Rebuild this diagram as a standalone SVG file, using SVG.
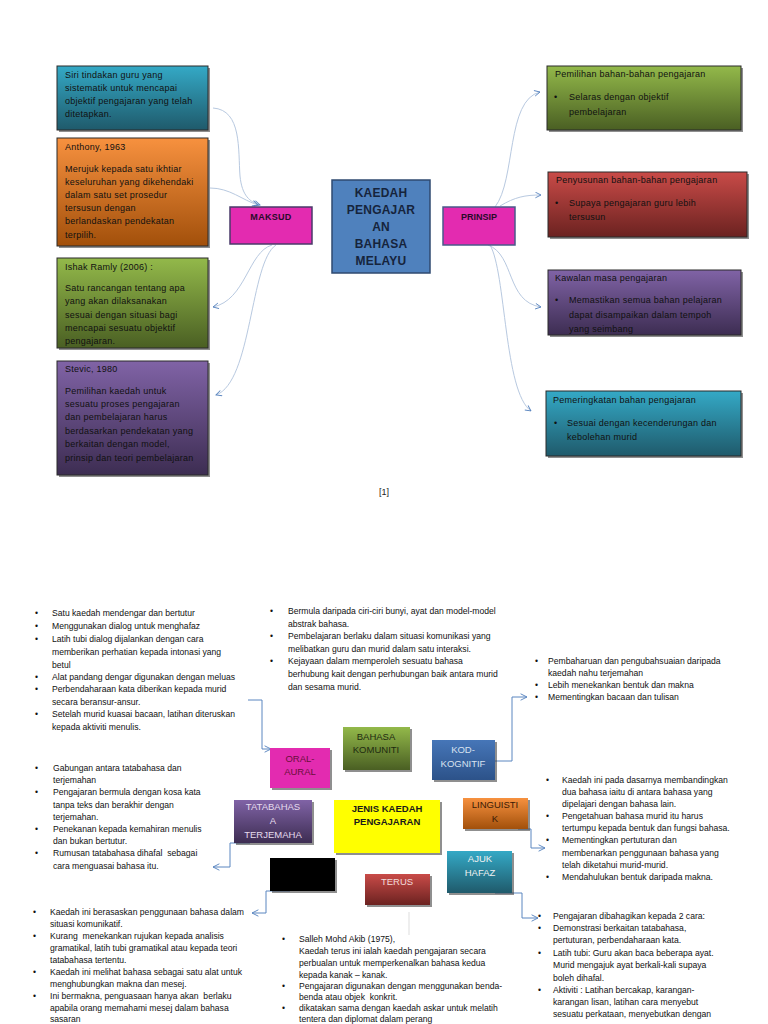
<svg xmlns="http://www.w3.org/2000/svg" width="768" height="1024" viewBox="0 0 768 1024">
<defs>
<linearGradient id="gTeal" x1="0" y1="0" x2="0" y2="1"><stop offset="0" stop-color="#34A9C6"/><stop offset="1" stop-color="#1F5A6B"/></linearGradient>
<linearGradient id="gOrange" x1="0" y1="0" x2="0" y2="1"><stop offset="0" stop-color="#F7913F"/><stop offset="1" stop-color="#A2500B"/></linearGradient>
<linearGradient id="gGreen" x1="0" y1="0" x2="0" y2="1"><stop offset="0" stop-color="#93B94A"/><stop offset="1" stop-color="#4A5F23"/></linearGradient>
<linearGradient id="gPurple" x1="0" y1="0" x2="0" y2="1"><stop offset="0" stop-color="#8063A6"/><stop offset="1" stop-color="#3D2D52"/></linearGradient>
<linearGradient id="gRed" x1="0" y1="0" x2="0" y2="1"><stop offset="0" stop-color="#C94B48"/><stop offset="1" stop-color="#6B2220"/></linearGradient>
<linearGradient id="gBlue" x1="0" y1="0" x2="0" y2="1"><stop offset="0" stop-color="#4676B8"/><stop offset="1" stop-color="#2C5289"/></linearGradient>
<marker id="aT" viewBox="0 0 10 10" refX="9" refY="5" markerWidth="7" markerHeight="7" orient="auto" markerUnits="userSpaceOnUse"><path d="M1,1 L9,5 L1,9" fill="none" stroke="#5B86C0" stroke-width="1.3"/></marker>
<marker id="aB" viewBox="0 0 10 10" refX="9" refY="5" markerWidth="8" markerHeight="8" orient="auto" markerUnits="userSpaceOnUse"><path d="M1,1 L9,5 L1,9" fill="none" stroke="#5B86C0" stroke-width="1.2"/></marker>
</defs>
<style>
text{font-family:"Liberation Sans",Arial,sans-serif;}
.t{font-size:9px;fill:#111;letter-spacing:0.25px}
.b{font-size:8.6px;fill:#111}
.box{stroke:#2a2a2a;stroke-width:1}
.sh{fill:#333;opacity:0.55}
.cT{fill:none;stroke:#B8C9E0;stroke-width:1}
.cB{fill:none;stroke:#5B86C0;stroke-width:1}
.n{font-size:9.5px;text-anchor:middle}
</style>
<rect width="768" height="1024" fill="#fff"/>

<g id="connectors">
<path class="cT" d="M213,108 C242,110 238,150 240,176 C242,196 250,202 260,205" marker-end="url(#aT)"/>
<path class="cT" d="M210,188 C230,188 242,200 258,205" marker-end="url(#aT)"/>
<path class="cT" d="M272,245 C248,252 246,300 213,307" marker-end="url(#aT)"/>
<path class="cT" d="M276,245 C250,262 252,382 216,395" marker-end="url(#aT)"/>
<path class="cT" d="M495,207 C516,180 506,100 540,92" marker-end="url(#aT)"/>
<path class="cT" d="M500,206 C515,197 525,195 541,195" marker-end="url(#aT)"/>
<path class="cT" d="M488,245 C515,255 506,302 541,307" marker-end="url(#aT)"/>
<path class="cT" d="M490,245 C506,272 504,392 531,411" marker-end="url(#aT)"/>

<path class="cB" d="M248,700 H262 V749 H271" marker-end="url(#aB)"/>
<path class="cB" d="M495,761 H512 V697 H527" marker-end="url(#aB)"/>
<path class="cB" d="M250,843 H230 V867 H213" marker-end="url(#aB)"/>
<path class="cB" d="M290,891 H266 V913 H252" marker-end="url(#aB)"/>
<path class="cB" d="M518,829 H531 V848 H545" marker-end="url(#aB)"/>
<path class="cB" d="M495,893 H522 V918 H538" marker-end="url(#aB)"/>
<path d="M409,912 V935" fill="none" stroke="#DDDDDD" stroke-width="1"/>
</g>

<g id="siri">
<rect x="59" y="68" width="151" height="64" class="sh"/>
<rect x="57" y="66" width="151" height="64" fill="url(#gTeal)" class="box"/>
<text class="t"><tspan x="65" y="78">Siri tindakan guru yang</tspan><tspan x="65" y="91">sistematik untuk mencapai</tspan><tspan x="65" y="104">objektif pengajaran yang telah</tspan><tspan x="65" y="117">ditetapkan.</tspan></text>
</g>
<g id="anthony">
<rect x="59" y="140" width="151" height="108" class="sh"/>
<rect x="57" y="138" width="151" height="108" fill="url(#gOrange)" class="box"/>
<text class="t"><tspan x="65" y="150">Anthony, 1963</tspan><tspan x="65" y="172">Merujuk kepada satu ikhtiar</tspan><tspan x="65" y="185">keseluruhan yang dikehendaki</tspan><tspan x="65" y="198">dalam satu set prosedur</tspan><tspan x="65" y="211">tersusun dengan</tspan><tspan x="65" y="224">berlandaskan pendekatan</tspan><tspan x="65" y="238">terpilih.</tspan></text>
</g>
<g id="ishak">
<rect x="59" y="260" width="151" height="90" class="sh"/>
<rect x="57" y="258" width="151" height="90" fill="url(#gGreen)" class="box"/>
<text class="t"><tspan x="65" y="270">Ishak Ramly (2006) :</tspan><tspan x="65" y="291">Satu rancangan tentang apa</tspan><tspan x="65" y="304">yang akan dilaksanakan</tspan><tspan x="65" y="318">sesuai dengan situasi bagi</tspan><tspan x="65" y="331">mencapai sesuatu objektif</tspan><tspan x="65" y="344">pengajaran.</tspan></text>
</g>
<g id="stevic">
<rect x="59" y="363" width="151" height="114" class="sh"/>
<rect x="57" y="361" width="151" height="114" fill="url(#gPurple)" class="box"/>
<text class="t"><tspan x="65" y="372">Stevic, 1980</tspan><tspan x="65" y="394">Pemilihan kaedah untuk</tspan><tspan x="65" y="407">sesuatu proses pengajaran</tspan><tspan x="65" y="420">dan pembelajaran harus</tspan><tspan x="65" y="434">berdasarkan pendekatan yang</tspan><tspan x="65" y="447">berkaitan dengan model,</tspan><tspan x="65" y="461">prinsip dan teori pembelajaran</tspan></text>
</g>

<g id="maksud">
<rect x="230" y="207" width="82" height="37" fill="#E32BB0" stroke="#4A3A6A" stroke-width="1.5"/>
<text x="271" y="220" font-size="9px" font-weight="bold" fill="#2a0a2a" text-anchor="middle" letter-spacing="0.3">MAKSUD</text>
</g>
<g id="kaedah">
<rect x="332" y="180" width="98" height="93" fill="#4F81BD" stroke="#2F4A70" stroke-width="1.5"/>
<text font-size="12px" font-weight="bold" fill="#16243C" text-anchor="middle" letter-spacing="0.2"><tspan x="381" y="197">KAEDAH</tspan><tspan x="381" y="214">PENGAJAR</tspan><tspan x="381" y="231">AN</tspan><tspan x="381" y="248">BAHASA</tspan><tspan x="381" y="265">MELAYU</tspan></text>
</g>
<g id="prinsip">
<rect x="443" y="207" width="72" height="38" fill="#E32BB0" stroke="#4A5A8A" stroke-width="1.5"/>
<text x="479" y="220" font-size="9px" font-weight="bold" fill="#2a0a2a" text-anchor="middle">PRINSIP</text>
</g>

<g id="pemilihan">
<rect x="549" y="68" width="194" height="64" class="sh"/>
<rect x="547" y="66" width="194" height="64" fill="url(#gGreen)" class="box"/>
<text class="t"><tspan x="555" y="77">Pemilihan bahan-bahan pengajaran</tspan><tspan x="554" y="100">•</tspan><tspan x="569" y="100">Selaras dengan objektif</tspan><tspan x="569" y="115">pembelajaran</tspan></text>
</g>
<g id="penyusunan">
<rect x="550" y="174" width="199" height="65" class="sh"/>
<rect x="548" y="172" width="199" height="65" fill="url(#gRed)" class="box"/>
<text class="t"><tspan x="556" y="183">Penyusunan bahan-bahan pengajaran</tspan><tspan x="555" y="206">•</tspan><tspan x="569" y="206">Supaya pengajaran guru lebih</tspan><tspan x="569" y="220">tersusun</tspan></text>
</g>
<g id="kawalan">
<rect x="550" y="272" width="193" height="65" class="sh"/>
<rect x="548" y="270" width="193" height="65" fill="url(#gPurple)" class="box"/>
<text class="t"><tspan x="555" y="281">Kawalan masa pengajaran</tspan><tspan x="555" y="303">•</tspan><tspan x="569" y="303">Memastikan semua bahan pelajaran</tspan><tspan x="569" y="318">dapat disampaikan dalam tempoh</tspan><tspan x="569" y="332">yang seimbang</tspan></text>
</g>
<g id="pemeringkatan">
<rect x="548" y="393" width="195" height="65" class="sh"/>
<rect x="546" y="391" width="195" height="65" fill="url(#gTeal)" class="box"/>
<text class="t"><tspan x="553" y="403">Pemeringkatan bahan pengajaran</tspan><tspan x="554" y="426">•</tspan><tspan x="567" y="426">Sesuai dengan kecenderungan dan</tspan><tspan x="567" y="440">kebolehan murid</tspan></text>
</g>

<text x="384" y="495" font-size="9px" fill="#222" text-anchor="middle">[1]</text>

<g id="list-oral">
<text class="b"><tspan x="35" y="616">•</tspan><tspan x="52" y="616">Satu kaedah mendengar dan bertutur</tspan><tspan x="35" y="629">•</tspan><tspan x="52" y="629">Menggunakan dialog untuk menghafaz</tspan><tspan x="35" y="642">•</tspan><tspan x="52" y="642">Latih tubi dialog dijalankan dengan cara</tspan><tspan x="52" y="655">memberikan perhatian kepada intonasi yang</tspan><tspan x="52" y="668">betul</tspan><tspan x="35" y="680">•</tspan><tspan x="52" y="680">Alat pandang dengar digunakan dengan meluas</tspan><tspan x="35" y="692">•</tspan><tspan x="52" y="692">Perbendaharaan kata diberikan kepada murid</tspan><tspan x="52" y="705">secara beransur-ansur.</tspan><tspan x="35" y="717">•</tspan><tspan x="52" y="717">Setelah murid kuasai bacaan, latihan diteruskan</tspan><tspan x="52" y="730">kepada aktiviti menulis.</tspan></text>
</g>
<g id="list-komuniti">
<text class="b"><tspan x="270" y="614">•</tspan><tspan x="288" y="614">Bermula daripada ciri-ciri bunyi, ayat dan model-model</tspan><tspan x="288" y="627">abstrak bahasa.</tspan><tspan x="270" y="639">•</tspan><tspan x="288" y="639">Pembelajaran berlaku dalam situasi komunikasi yang</tspan><tspan x="288" y="652">melibatkan guru dan murid dalam satu interaksi.</tspan><tspan x="270" y="664">•</tspan><tspan x="288" y="664">Kejayaan dalam memperoleh sesuatu bahasa</tspan><tspan x="288" y="677">berhubung kait dengan perhubungan baik antara murid</tspan><tspan x="288" y="690">dan sesama murid.</tspan></text>
</g>
<g id="list-kod">
<text class="b"><tspan x="535" y="664">•</tspan><tspan x="548" y="664">Pembaharuan dan pengubahsuaian daripada</tspan><tspan x="548" y="676">kaedah nahu terjemahan</tspan><tspan x="535" y="688">•</tspan><tspan x="548" y="688">Lebih menekankan bentuk dan makna</tspan><tspan x="535" y="700">•</tspan><tspan x="548" y="700">Mementingkan bacaan dan tulisan</tspan></text>
</g>
<g id="list-tatabahasa">
<text class="b"><tspan x="35" y="771">•</tspan><tspan x="53" y="771">Gabungan antara tatabahasa dan</tspan><tspan x="53" y="783">terjemahan</tspan><tspan x="35" y="795">•</tspan><tspan x="53" y="795">Pengajaran bermula dengan kosa kata</tspan><tspan x="53" y="808">tanpa teks dan berakhir dengan</tspan><tspan x="53" y="820">terjemahan.</tspan><tspan x="35" y="832">•</tspan><tspan x="53" y="832">Penekanan kepada kemahiran menulis</tspan><tspan x="53" y="844">dan bukan bertutur.</tspan><tspan x="35" y="856">•</tspan><tspan x="53" y="856">Rumusan tatabahasa dihafal&#160; sebagai</tspan><tspan x="53" y="869">cara menguasai bahasa itu.</tspan></text>
</g>
<g id="list-linguistik">
<text class="b"><tspan x="546" y="783">•</tspan><tspan x="562" y="783">Kaedah ini pada dasarnya membandingkan</tspan><tspan x="562" y="795">dua bahasa iaitu di antara bahasa yang</tspan><tspan x="562" y="807">dipelajari dengan bahasa lain.</tspan><tspan x="546" y="819">•</tspan><tspan x="562" y="819">Pengetahuan bahasa murid itu harus</tspan><tspan x="562" y="831">tertumpu kepada bentuk dan fungsi bahasa.</tspan><tspan x="546" y="843">•</tspan><tspan x="562" y="843">Mementingkan pertuturan dan</tspan><tspan x="562" y="856">membenarkan penggunaan bahasa yang</tspan><tspan x="562" y="868">telah diketahui murid-murid.</tspan><tspan x="546" y="880">•</tspan><tspan x="562" y="880">Mendahulukan bentuk daripada makna.</tspan></text>
</g>
<g id="list-komunikatif">
<text class="b"><tspan x="33" y="915">•</tspan><tspan x="50" y="915">Kaedah ini berasaskan penggunaan bahasa dalam</tspan><tspan x="50" y="927">situasi komunikatif.</tspan><tspan x="33" y="939">•</tspan><tspan x="50" y="939">Kurang&#160; menekankan rujukan kepada analisis</tspan><tspan x="50" y="951">gramatikal, latih tubi gramatikal atau kepada teori</tspan><tspan x="50" y="963">tatabahasa tertentu.</tspan><tspan x="33" y="975">•</tspan><tspan x="50" y="975">Kaedah ini melihat bahasa sebagai satu alat untuk</tspan><tspan x="50" y="987">menghubungkan makna dan mesej.</tspan><tspan x="33" y="999">•</tspan><tspan x="50" y="999">Ini bermakna, penguasaan hanya akan&#160; berlaku</tspan><tspan x="50" y="1011">apabila orang memahami mesej dalam bahasa</tspan><tspan x="50" y="1022">sasaran</tspan></text>
</g>
<g id="list-terus">
<text class="b"><tspan x="282" y="942">•</tspan><tspan x="299" y="942">Salleh Mohd Akib (1975),</tspan><tspan x="299" y="954">Kaedah terus ini ialah kaedah pengajaran secara</tspan><tspan x="299" y="966">perbualan untuk memperkenalkan bahasa kedua</tspan><tspan x="299" y="978">kepada kanak – kanak.</tspan><tspan x="282" y="989">•</tspan><tspan x="299" y="989">Pengajaran digunakan dengan menggunakan benda-</tspan><tspan x="299" y="1000">benda atau objek&#160; konkrit.</tspan><tspan x="282" y="1011">•</tspan><tspan x="299" y="1011">dikatakan sama dengan kaedah askar untuk melatih</tspan><tspan x="299" y="1022">tentera dan diplomat dalam perang</tspan></text>
</g>
<g id="list-ajuk">
<text class="b"><tspan x="538" y="919">•</tspan><tspan x="553" y="919">Pengajaran dibahagikan kepada 2 cara:</tspan><tspan x="538" y="931">•</tspan><tspan x="553" y="931">Demonstrasi berkaitan tatabahasa,</tspan><tspan x="553" y="943">pertuturan, perbendaharaan kata.</tspan><tspan x="538" y="956">•</tspan><tspan x="553" y="956">Latih tubi: Guru akan baca beberapa ayat.</tspan><tspan x="553" y="968">Murid mengajuk ayat berkali-kali supaya</tspan><tspan x="553" y="981">boleh dihafal.</tspan><tspan x="538" y="993">•</tspan><tspan x="553" y="993">Aktiviti : Latihan bercakap, karangan-</tspan><tspan x="553" y="1005">karangan lisan, latihan cara menyebut</tspan><tspan x="553" y="1017">sesuatu perkataan, menyebutkan dengan</tspan></text>
</g>

<g id="oral">
<rect x="272" y="750" width="60" height="40" class="sh"/>
<rect x="270" y="748" width="60" height="40" fill="#E32BB0"/>
<text class="n" fill="#6A0F3A"><tspan x="300" y="762">ORAL-</tspan><tspan x="300" y="775">AURAL</tspan></text>
</g>
<g id="komuniti">
<rect x="345" y="729" width="67" height="43" class="sh"/>
<rect x="343" y="727" width="67" height="43" fill="url(#gGreen)"/>
<text class="n" fill="#1E2A10"><tspan x="376" y="740">BAHASA</tspan><tspan x="376" y="753">KOMUNITI</tspan></text>
</g>
<g id="kod">
<rect x="434" y="742" width="63" height="40" class="sh"/>
<rect x="432" y="740" width="63" height="40" fill="url(#gBlue)"/>
<text class="n" fill="#D8E2F0"><tspan x="463" y="753">KOD-</tspan><tspan x="463" y="767">KOGNITIF</tspan></text>
</g>
<g id="tatabahasa">
<rect x="236" y="802" width="78" height="43" class="sh"/>
<rect x="234" y="800" width="78" height="43" fill="url(#gPurple)"/>
<text class="n" fill="#E6DCEE"><tspan x="273" y="810">TATABAHAS</tspan><tspan x="273" y="824">A</tspan><tspan x="273" y="838">TERJEMAHA</tspan></text>
</g>
<g id="jenis">
<rect x="336" y="802" width="106" height="53" class="sh"/>
<rect x="334" y="800" width="106" height="53" fill="#FFFF00"/>
<text font-size="9.5px" font-weight="bold" fill="#1a1a1a" text-anchor="middle"><tspan x="387" y="812">JENIS KAEDAH</tspan><tspan x="387" y="825">PENGAJARAN</tspan></text>
</g>
<g id="linguistik">
<rect x="465" y="800" width="65" height="31" class="sh"/>
<rect x="463" y="798" width="65" height="31" fill="url(#gOrange)"/>
<text class="n" fill="#3A1A05"><tspan x="495" y="808">LINGUISTI</tspan><tspan x="495" y="822">K</tspan></text>
</g>
<g id="ajuk">
<rect x="449" y="853" width="65" height="42" class="sh"/>
<rect x="447" y="851" width="65" height="42" fill="url(#gTeal)"/>
<text class="n" fill="#F2F2F2"><tspan x="480" y="862">AJUK</tspan><tspan x="480" y="876">HAFAZ</tspan></text>
</g>
<g id="black">
<rect x="272" y="860" width="65" height="33" class="sh"/>
<rect x="270" y="858" width="65" height="33" fill="#000"/>
</g>
<g id="terus">
<rect x="367" y="876" width="65" height="31" class="sh"/>
<rect x="365" y="874" width="65" height="31" fill="url(#gRed)"/>
<text class="n" fill="#F2DCDC" x="397" y="885">TERUS</text>
</g>
</svg>
